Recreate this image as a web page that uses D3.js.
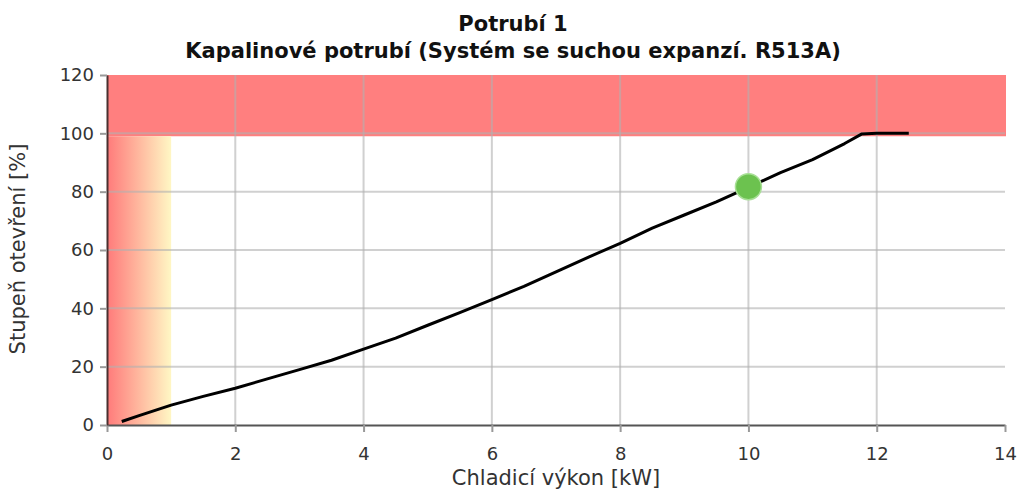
<!DOCTYPE html>
<html><head><meta charset="utf-8">
<script src="https://cdn.jsdelivr.net/npm/d3@7"></script>
<style>body{margin:0;background:#fff}svg{display:block}</style>
</head><body>
<svg id="c" width="1023" height="489"></svg>
<script>
const xVals = [0.23,0.5,1,1.5,2,2.5,3,3.5,4,4.5,5,5.5,6,6.5,7,7.5,8,8.5,9,9.5,10,10.5,11,11.5,11.77,12,12.5];
const yVals = [1.2,3.2,6.8,9.8,12.6,15.8,19,22.2,26,29.8,34.2,38.5,43,47.5,52.5,57.5,62.3,67.5,72,76.5,81.5,86.5,91,96.5,99.8,100,100];
const markerX = [10];
const markerY = [81.7];
const xTicks = [0,2,4,6,8,10,12,14];
const yTicks = [0,20,40,60,80,100,120];
const redZone = [99,120];
const gradZone = [0,1];
const titles = ["Potrubí 1","Kapalinové potrubí (Systém se suchou expanzí. R513A)"];
const xLabel = "Chladicí výkon [kW]";
const yLabel = "Stupeň otevření [%]";

const svg = d3.select("#c");
const L=107,R=1005,T=75,B=425;
const x = d3.scaleLinear().domain([0,14]).range([L,R]);
const y = d3.scaleLinear().domain([0,120]).range([B,T]);
const font = "DejaVu Sans, Verdana, sans-serif";

const defs = svg.append("defs");
const g = defs.append("linearGradient").attr("id","gz").attr("x1","0").attr("x2","1").attr("y1","0").attr("y2","0");
g.append("stop").attr("offset","0").attr("stop-color","#ff7a7a");
g.append("stop").attr("offset","1").attr("stop-color","#fff7c4");

svg.append("rect").attr("x",x(0)).attr("width",x(14)-x(0)+1).attr("y",y(redZone[1])).attr("height",y(redZone[0])-y(redZone[1])).attr("fill","#ff7f7f");
svg.append("rect").attr("x",x(gradZone[0])).attr("width",x(gradZone[1])-x(gradZone[0])).attr("y",y(redZone[0])).attr("height",y(0)-y(redZone[0])).attr("fill","url(#gz)");

// grid
svg.append("g").selectAll("line").data(xTicks.slice(1,-1)).join("line")
  .attr("x1",d=>x(d)).attr("x2",d=>x(d)).attr("y1",T).attr("y2",B)
  .attr("stroke","#b0b0b0").attr("stroke-opacity",0.6).attr("stroke-width",2);
svg.append("g").selectAll("line").data(yTicks.slice(1,-1)).join("line")
  .attr("x1",L).attr("x2",R).attr("y1",d=>y(d)).attr("y2",d=>y(d))
  .attr("stroke","#b0b0b0").attr("stroke-opacity",0.6).attr("stroke-width",2);

// axes
const xa = svg.append("g").attr("transform",`translate(0,${B})`)
  .call(d3.axisBottom(x).tickValues(xTicks).tickSize(7).tickSizeOuter(0).tickPadding(15));
const ya = svg.append("g").attr("transform",`translate(${L},0)`)
  .call(d3.axisLeft(y).tickValues(yTicks).tickSize(7).tickSizeOuter(0).tickPadding(6));
[xa,ya].forEach(a=>{
  a.select(".domain").attr("stroke","#555").attr("stroke-width",2);
  a.selectAll(".tick line").attr("stroke","#999").attr("stroke-width",2);
  a.selectAll(".tick text").attr("font-family",font).attr("font-size",18).attr("fill","#333");
});
ya.select(".domain").attr("stroke","#4a3030");

// line
const pts = xVals.map((v,i)=>[v,yVals[i]]);
svg.append("path").datum(pts).attr("d",d3.line().x(d=>x(d[0])).y(d=>y(d[1])))
  .attr("fill","none").attr("stroke","#000").attr("stroke-width",3).attr("stroke-linejoin","round");

svg.selectAll("circle.m").data(markerX.map((v,i)=>[v,markerY[i]])).join("circle")
  .attr("cx",d=>x(d[0])).attr("cy",d=>y(d[1])).attr("r",13)
  .attr("fill","#6cc24f").attr("stroke","#a8df96").attr("stroke-width",1.5);

// titles
svg.append("text").attr("x",513).attr("y",31).attr("text-anchor","middle").attr("font-family",font).attr("font-weight","bold").attr("font-size",21).attr("fill","#111").text(titles[0]);
svg.append("text").attr("x",513).attr("y",58).attr("text-anchor","middle").attr("font-family",font).attr("font-weight","bold").attr("font-size",21).attr("fill","#111").text(titles[1]);
svg.append("text").attr("x",556).attr("y",485).attr("text-anchor","middle").attr("font-family",font).attr("font-size",21).attr("fill","#333").text(xLabel);
svg.append("text").attr("transform",`translate(25,249) rotate(-90)`).attr("text-anchor","middle").attr("font-family",font).attr("font-size",21).attr("fill","#333").text(yLabel);
</script>
</body></html>
